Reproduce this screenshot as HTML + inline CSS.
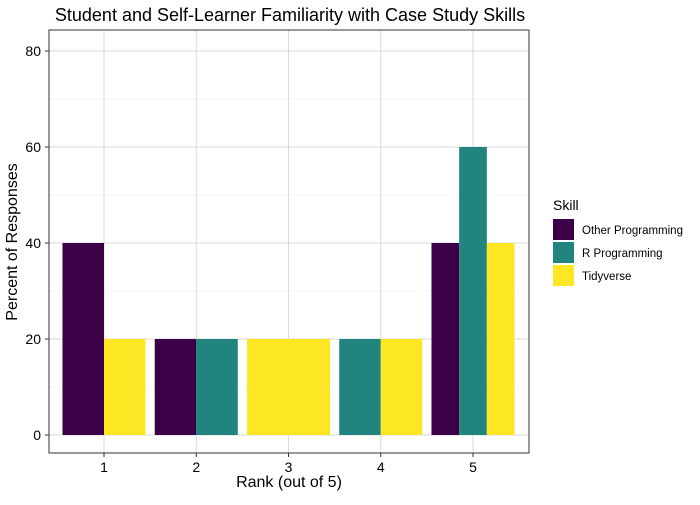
<!DOCTYPE html>
<html><head><meta charset="utf-8"><style>
body{margin:0;background:#fff;font-family:"Liberation Sans",sans-serif}
</style></head><body>
<svg id="chart" width="700" height="500" xmlns="http://www.w3.org/2000/svg" font-family="Liberation Sans, sans-serif">
<rect width="700" height="500" fill="#fff"/>
<text x="290" y="21" text-anchor="middle" font-size="18" fill="#000">Student and Self-Learner Familiarity with Case Study Skills</text>
<g id="grid"></g><g id="bars"></g><g id="axes"></g>
<rect x="49" y="30" width="480" height="423" fill="none" stroke="#333" stroke-width="1"/>
<text x="289" y="487" text-anchor="middle" font-size="16">Rank (out of 5)</text>
<text transform="translate(17,242) rotate(-90)" text-anchor="middle" font-size="16">Percent of Responses</text>
<g id="legend">
<text x="553" y="210" font-size="14">Skill</text>
</g>
</svg>
<script>
const ranks=[1,2,3,4,5];
const skills=["Other Programming","R Programming","Tidyverse"];
const colors=["#3b0048","#21847f","#fde725"];
const otherVals=[40,20,null,null,40];
const rVals=[null,20,null,20,60];
const tidyVals=[20,null,20,20,40];
const yTicks=[0,20,40,60,80];
const series=[otherVals,rVals,tidyVals];
const NS="http://www.w3.org/2000/svg";
const x=v=>104+(v-1)*92.25;
const y=v=>435-v*4.8;
const bw=92.25*0.9;
function mk(t,a,p){const e=document.createElementNS(NS,t);for(const k in a)e.setAttribute(k,a[k]);p.appendChild(e);return e;}
const grid=document.getElementById('grid'),bars=document.getElementById('bars'),axes=document.getElementById('axes');
for(let v=10;v<=80;v+=20){const l=mk('line',{x1:49,x2:529,y1:y(v),y2:y(v),stroke:'#ebebeb','stroke-width':0.5},grid);

}
yTicks.forEach(v=>{const l=mk('line',{x1:49,x2:529,y1:y(v),y2:y(v),stroke:'#d9d9d9','stroke-width':1},grid);


const t=mk('text',{x:41,y:y(v)+5,'text-anchor':'end','font-size':14,fill:'#000'},axes);t.textContent=v;


mk('line',{x1:45,x2:49,y1:y(v),y2:y(v),stroke:'#333'},axes);});
ranks.forEach((r,i)=>{const l=mk('line',{x1:x(r),x2:x(r),y1:30,y2:453,stroke:'#d9d9d9','stroke-width':1},grid);


mk('line',{x1:x(r),x2:x(r),y1:453,y2:457,stroke:'#333'},axes);
const t=mk('text',{x:x(r),y:472,'text-anchor':'middle','font-size':14},axes);t.textContent=r;


const present=series.map((s,j)=>j).filter(j=>series[j][i]!=null);
const w=bw/present.length;
present.forEach((j,k)=>{const v=series[j][i];
const b=mk('rect',{x:x(r)-bw/2+k*w,y:y(v),width:w,height:y(0)-y(v),fill:colors[j]},bars);

});});
const lg=document.getElementById('legend');
skills.forEach((s,j)=>{const r=mk('rect',{x:553,y:219+j*23,width:21,height:21,fill:colors[j]},lg);


const t=mk('text',{x:582,y:234+j*23,'font-size':11.5},lg);t.textContent=s;

});
</script>
</body></html>
